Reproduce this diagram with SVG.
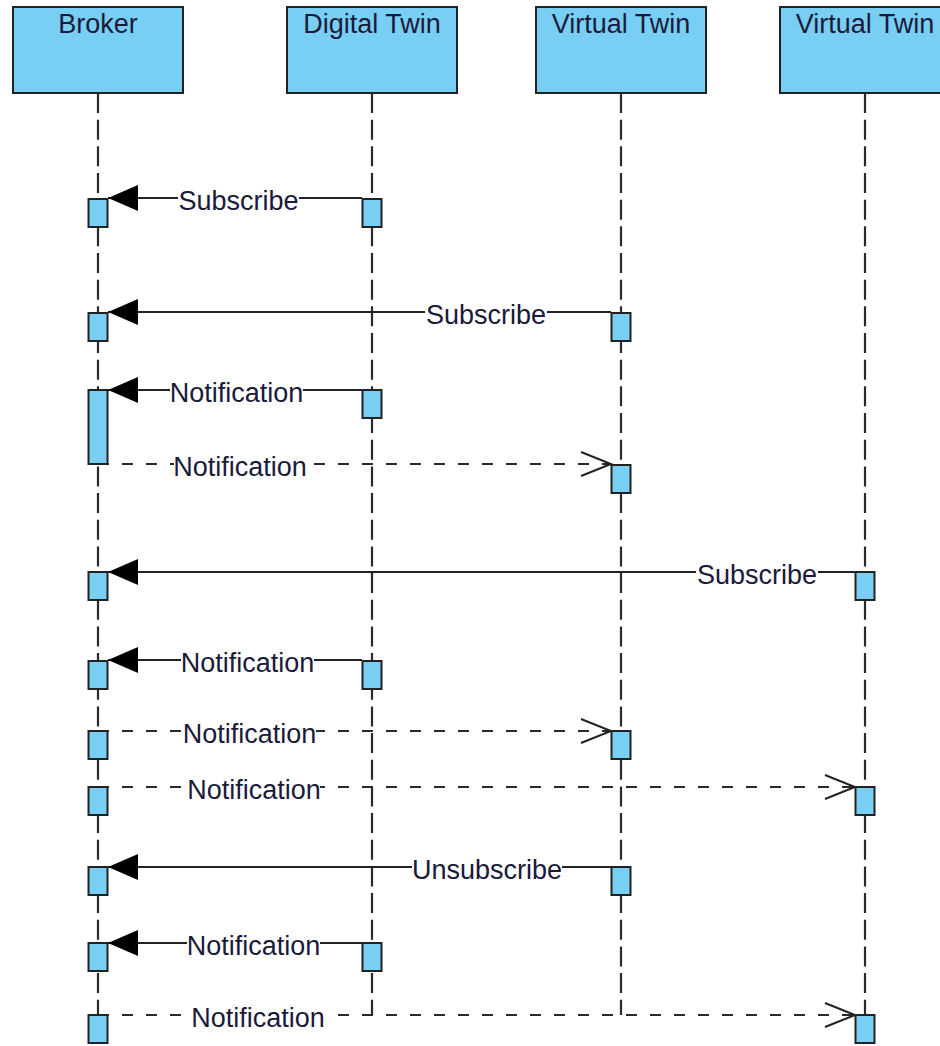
<svg xmlns="http://www.w3.org/2000/svg" width="940" height="1046" viewBox="0 0 940 1046">
<style>
.hdr{fill:#79CEF3;stroke:#222;stroke-width:2}
.act{fill:#79CEF3;stroke:#222;stroke-width:2}
.life{stroke:#2a2a2a;stroke-width:2.2;stroke-dasharray:20,6.67;fill:none}
.sync{stroke:#222;stroke-width:2;fill:none}
.ret{stroke:#2a2a2a;stroke-width:2.2;stroke-dasharray:11,13;fill:none}
.t{font-family:"Liberation Sans",Arial,sans-serif;font-size:27px;fill:#1a1a3a}
.lb{fill:#fff}
</style>
<defs>
<marker id="filled" markerUnits="userSpaceOnUse" markerWidth="32" markerHeight="30" refX="30" refY="14" orient="auto">
<path d="M0,1 L30,14 L0,27 z" fill="#000"/>
</marker>
<marker id="open" markerUnits="userSpaceOnUse" markerWidth="34" markerHeight="30" refX="31" refY="14" orient="auto">
<path d="M1,2 L31,14 L1,26" fill="none" stroke="#222" stroke-width="2"/>
</marker>
</defs>
<rect width="940" height="1046" fill="#fff"/>
<g id="lifelines">
<line class="life" x1="98" y1="93" x2="98" y2="1015"/>
<line class="life" x1="372" y1="93" x2="372" y2="1015"/>
<line class="life" x1="621" y1="93" x2="621" y2="1015"/>
<line class="life" x1="865" y1="93" x2="865" y2="1015"/>
</g>
<g id="broker"><rect class="hdr" x="13" y="7" width="170" height="86"/><text class="t" x="98" y="33" text-anchor="middle">Broker</text></g>
<g id="digital-twin"><rect class="hdr" x="287" y="7" width="170" height="86"/><text class="t" x="372" y="33" text-anchor="middle">Digital Twin</text></g>
<g id="virtual-twin-1"><rect class="hdr" x="536" y="7" width="170" height="86"/><text class="t" x="621" y="33" text-anchor="middle">Virtual Twin</text></g>
<g id="virtual-twin-2"><rect class="hdr" x="780" y="7" width="170" height="86"/><text class="t" x="865" y="33" text-anchor="middle">Virtual Twin</text></g>
<g id="connectors">
<line class="sync" x1="362" y1="198" x2="108" y2="198" marker-end="url(#filled)"/>
<line class="sync" x1="611" y1="312" x2="108" y2="312" marker-end="url(#filled)"/>
<line class="sync" x1="362" y1="390" x2="108" y2="390" marker-end="url(#filled)"/>
<line class="ret" x1="98" y1="464" x2="611" y2="464" marker-end="url(#open)"/>
<line class="sync" x1="855" y1="572" x2="108" y2="572" marker-end="url(#filled)"/>
<line class="sync" x1="362" y1="660" x2="108" y2="660" marker-end="url(#filled)"/>
<line class="ret" x1="98" y1="731" x2="611" y2="731" marker-end="url(#open)"/>
<line class="ret" x1="98" y1="787" x2="855" y2="787" marker-end="url(#open)"/>
<line class="sync" x1="611" y1="867" x2="108" y2="867" marker-end="url(#filled)"/>
<line class="sync" x1="362" y1="943" x2="108" y2="943" marker-end="url(#filled)"/>
<line class="ret" x1="98" y1="1015" x2="855" y2="1015" marker-end="url(#open)"/>
</g>
<g id="labels">
<rect class="lb" x="178" y="188" width="121" height="22"/><text class="t" x="238.5" y="210" text-anchor="middle">Subscribe</text>
<rect class="lb" x="425" y="302" width="122" height="22"/><text class="t" x="486" y="324" text-anchor="middle">Subscribe</text>
<rect class="lb" x="170" y="380" width="133" height="22"/><text class="t" x="236.5" y="402" text-anchor="middle">Notification</text>
<rect class="lb" x="174" y="454" width="132" height="22"/><text class="t" x="240" y="476" text-anchor="middle">Notification</text>
<rect class="lb" x="696" y="562" width="122" height="22"/><text class="t" x="757" y="584" text-anchor="middle">Subscribe</text>
<rect class="lb" x="181" y="650" width="133" height="22"/><text class="t" x="247.5" y="672" text-anchor="middle">Notification</text>
<rect class="lb" x="183" y="721" width="133" height="22"/><text class="t" x="249.5" y="743" text-anchor="middle">Notification</text>
<rect class="lb" x="188" y="777" width="132" height="22"/><text class="t" x="254" y="799" text-anchor="middle">Notification</text>
<rect class="lb" x="412" y="857" width="150" height="22"/><text class="t" x="487" y="879" text-anchor="middle">Unsubscribe</text>
<rect class="lb" x="187" y="933" width="133" height="22"/><text class="t" x="253.5" y="955" text-anchor="middle">Notification</text>
<rect class="lb" x="191" y="1005" width="134" height="22"/><text class="t" x="258" y="1027" text-anchor="middle">Notification</text>
</g>
<g id="activations">
<rect class="act" x="88.5" y="199" width="19" height="28"/>
<rect class="act" x="362.5" y="199" width="19" height="28"/>
<rect class="act" x="88.5" y="313" width="19" height="28"/>
<rect class="act" x="611.5" y="313" width="19" height="28"/>
<rect class="act" x="88.5" y="390" width="19" height="74"/>
<rect class="act" x="362.5" y="390" width="19" height="28"/>
<rect class="act" x="611.5" y="465" width="19" height="28"/>
<rect class="act" x="88.5" y="572" width="19" height="28"/>
<rect class="act" x="855.5" y="572" width="19" height="28"/>
<rect class="act" x="88.5" y="661" width="19" height="28"/>
<rect class="act" x="362.5" y="661" width="19" height="28"/>
<rect class="act" x="88.5" y="731" width="19" height="28"/>
<rect class="act" x="611.5" y="731" width="19" height="28"/>
<rect class="act" x="88.5" y="787" width="19" height="28"/>
<rect class="act" x="855.5" y="787" width="19" height="28"/>
<rect class="act" x="88.5" y="867" width="19" height="28"/>
<rect class="act" x="611.5" y="867" width="19" height="28"/>
<rect class="act" x="88.5" y="943" width="19" height="28"/>
<rect class="act" x="362.5" y="943" width="19" height="28"/>
<rect class="act" x="88.5" y="1015" width="19" height="28"/>
<rect class="act" x="855.5" y="1015" width="19" height="28"/>
</g>
</svg>
